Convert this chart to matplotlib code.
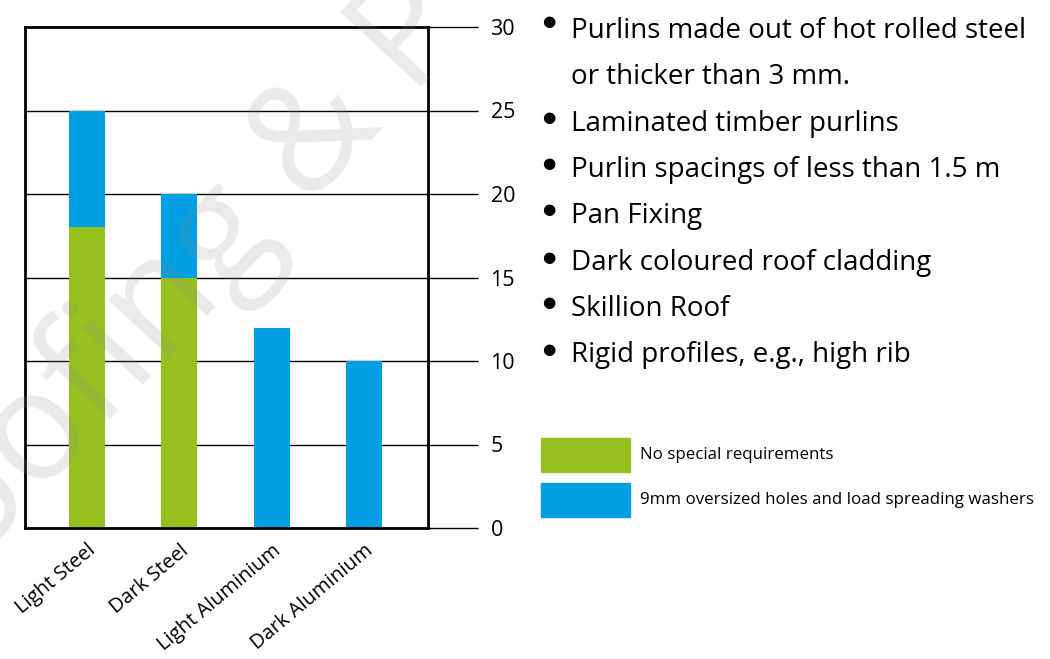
import matplotlib.pyplot as plt
from matplotlib.patches import Rectangle

plt.rcParams['font.family'] = ['Open Sans', 'DejaVu Sans']

categories = ['Light Steel', 'Dark Steel', 'Light Aluminium', 'Dark Aluminium']
no_special = [18, 15, 0, 0]
oversized = [7, 5, 12, 10]
y_ticks = [0, 5, 10, 15, 20, 25, 30]

notes = [
    'Purlins made out of hot rolled steel\nor thicker than 3 mm.',
    'Laminated timber purlins',
    'Purlin spacings of less than 1.5 m',
    'Pan Fixing',
    'Dark coloured roof cladding',
    'Skillion Roof',
    'Rigid profiles, e.g., high rib',
]
legend_labels = ['No special requirements', '9mm oversized holes and load spreading washers']

GREEN = '#95c11f'
BLUE = '#009fe3'

W, H = 1050, 659
fig = plt.figure(figsize=(W / 100, H / 100), dpi=100)


def fx(px):
    return px / W


def fy(py):
    return 1 - py / H


ax = fig.add_axes([fx(25), fy(528), fx(428) - fx(25), fy(27) - fy(528)])
ax.patch.set_alpha(0)

x = range(len(categories))
ax.bar(x, no_special, width=0.39, color=GREEN, zorder=2)
ax.bar(x, oversized, width=0.39, bottom=no_special, color=BLUE, zorder=2)

ax.set_xlim(-0.67, 3.69)
ax.set_ylim(0, 30)
ax.set_yticks(y_ticks)
ax.yaxis.tick_right()
ax.tick_params(axis='y', length=36, width=1, pad=9, labelsize=15.5, colors='black')
ax.yaxis.grid(True, color='black', lw=1, zorder=1)

ax.set_xticks(list(x))
ax.set_xticklabels(categories, rotation=40, ha='right', rotation_mode='anchor', fontsize=14.5)
ax.tick_params(axis='x', length=0, pad=9)
for s in ax.spines.values():
    s.set_linewidth(2)
    s.set_color('black')

# bullet notes
rows = [28, 124, 170, 216, 263, 309, 355]
for text, r in zip(notes, rows):
    fig.text(fx(549), fy(r - 6), '\u25cf', fontsize=11, ha='center', va='center',
             family='DejaVu Sans')
    if '\n' in text:
        fig.text(fx(571), fy(r - 11), text, fontsize=20, ha='left', va='top', linespacing=1.85)
    else:
        fig.text(fx(571), fy(r), text, fontsize=20, ha='left', va='center')

# legend
for i, (lab, col) in enumerate(zip(legend_labels, [GREEN, BLUE])):
    top = 438 + i * 45
    fig.patches.append(Rectangle((fx(541), fy(top + 34)), fx(630) - fx(541), fy(top) - fy(top + 34),
                                 transform=fig.transFigure, color=col))
    fig.text(fx(640), fy(top + 17), lab, fontsize=12.2, ha='left', va='center')

# watermark over everything, faint
fig.text(fx(-90), fy(635), 'Roofing & P', fontsize=110, color='#8a8a8a', alpha=0.18,
         rotation=47, rotation_mode='anchor', ha='left', va='baseline', zorder=10)

fig.savefig('out.png', dpi=100)
